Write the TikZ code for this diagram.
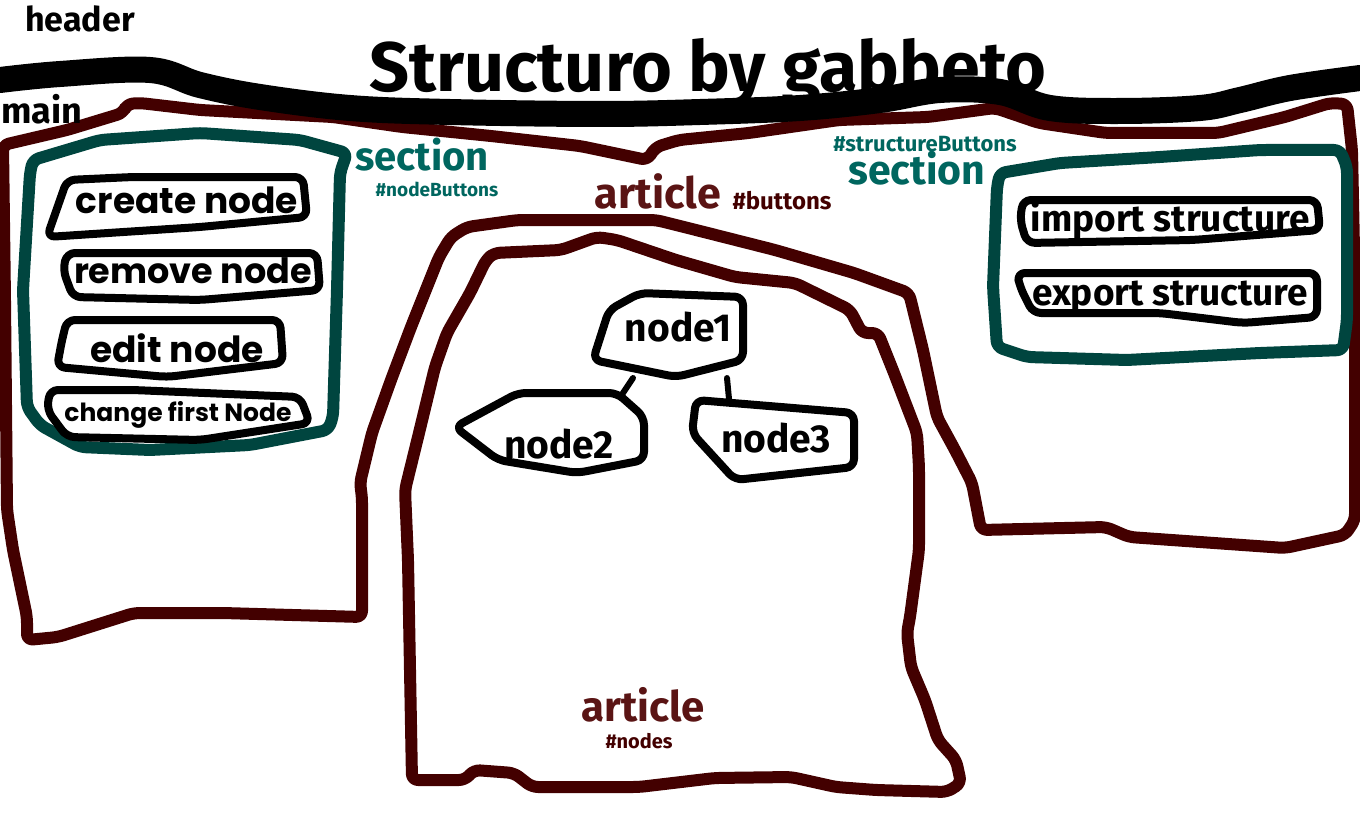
\documentclass[tikz,border=0pt]{standalone}
\usepackage{fontspec}
\setmainfont{Fira Sans}
\newfontfamily\btnfont{Poppins}
\usetikzlibrary{calc}

\definecolor{mainred}{HTML}{430000}
\definecolor{textred}{HTML}{5A1414}
\definecolor{sectteal}{HTML}{00453F}
\definecolor{textteal}{HTML}{00665F}

\tikzset{
  outline/.style={line width=12pt, line join=round, line cap=round, rounded corners=6pt},
  mainline/.style={outline, draw=mainred},
  sectline/.style={outline, draw=sectteal},
  btnline/.style={draw=black, line width=8pt, line join=round, rounded corners=8pt},
  linkline/.style={draw=black, line width=6pt, line cap=round},
  lbl/.style={inner sep=0pt, anchor=base},
  fsz/.style={font=\fontsize{#1}{#1}\selectfont\bfseries},
  btnsz/.style={font=\fontsize{#1}{#1}\selectfont\btnfont\bfseries}
}

\begin{document}
\begin{tikzpicture}[x=1pt, y=-1pt]
\useasboundingbox (0,0) rectangle (1360,840);

% main
\draw[mainline] (7,510) -- (5,300) -- (3,145) -- (67,130) -- (123,113) -- (127,104)
  -- (140,103) -- (200,110) -- (333,117) -- (402,127) -- (491,136) -- (580,146)
  -- (647,160) -- (656,147) -- (679,140) -- (749,133) -- (839,120) -- (928,117)
  -- (995,108) -- (1039,123) -- (1106,133) -- (1218,133) -- (1285,117) -- (1330,103)
  -- (1347,104) -- (1352,150) -- (1355,300) -- (1355,520) -- (1345,535) -- (1285,548)
  -- (1129,537) -- (1106,527) -- (981,530) -- (972,483) -- (955,450) -- (937,417)
  -- (923,350) -- (909,293) -- (854,273) -- (775,250) -- (696,230) -- (656,220)
  -- (518,220) -- (467,227) -- (451,237) -- (439,257) -- (427,287) -- (411,327)
  -- (391,380) -- (372,433) -- (360,483) -- (362,497) -- (362,617) -- (223,613)
  -- (134,613) -- (58,637) -- (27,640) -- (27,617) -- (13,550) -- cycle;

% header
\draw[line width=26pt, line cap=round] plot[smooth, tension=0.6] coordinates {
  (0,80) (60,74) (150,70) (200,85) (260,97) (350,108) (450,112) (600,114)
  (700,112) (800,108) (880,100) (940,90) (1000,92) (1050,108) (1120,111)
  (1200,108) (1240,100) (1290,88) (1360,78)};

% article #nodes
\draw[mainline] (494,253) -- (561,250) -- (597,237) -- (617,240) -- (676,260)
  -- (735,277) -- (795,283) -- (850,310) -- (862,333) -- (878,333) -- (894,373)
  -- (917,433) -- (919,467) -- (919,550) -- (910,617) -- (907,633) -- (911,667)
  -- (925,700) -- (938,740) -- (956,760) -- (961,783) -- (947,792) -- (876,790)
  -- (836,787) -- (791,777) -- (715,778) -- (639,787) -- (532,787) -- (514,773)
  -- (474,770) -- (465,780) -- (412,780) -- (410,670) -- (408,560) -- (405,490)
  -- (419,433) -- (435,367) -- (447,333) -- (470,293) -- (486,260) -- cycle;

% sections
\draw[sectline] (33,160) -- (100,140) -- (200,133) -- (300,140) -- (347,153)
  -- (340,173) -- (337,290) -- (333,417) -- (328,430) -- (250,445) -- (150,450)
  -- (80,447) -- (40,425) -- (27,407) -- (23,290) -- (30,173) -- cycle;
\draw[sectline] (1000,173) -- (1060,163) -- (1160,157) -- (1260,150) -- (1340,150)
  -- (1347,167) -- (1347,320) -- (1343,350) -- (1260,353) -- (1127,360)
  -- (1027,357) -- (997,347) -- (993,287) -- (997,187) -- cycle;

% buttons
\draw[btnline] (67,180) -- (133,177) -- (303,177) -- (307,217) -- (200,227)
  -- (47,237) -- (60,200) -- cycle;
\draw[btnline] (67,253) -- (317,253) -- (320,290) -- (200,300) -- (73,297)
  -- (63,270) -- cycle;
\draw[btnline] (67,320) -- (280,320) -- (283,363) -- (167,377) -- (57,367)
  -- (62,340) -- cycle;
\draw[btnline] (50,390) -- (133,390) -- (300,397) -- (310,423) -- (200,440)
  -- (67,437) -- (47,410) -- cycle;
\draw[btnline] (1023,200) -- (1317,200) -- (1320,230) -- (1193,240) -- (1027,243)
  -- (1020,220) -- cycle;
\draw[btnline] (1017,273) -- (1093,273) -- (1317,273) -- (1317,317) -- (1243,323)
  -- (1160,313) -- (1033,313) -- (1020,287) -- cycle;

% tree nodes
\draw[btnline] (593,360) -- (609,310) -- (640,293) -- (743,297) -- (743,360)
  -- (676,377) -- cycle;
\draw[btnline] (455,427) -- (518,393) -- (617,393) -- (644,417) -- (644,460)
  -- (577,473) -- (498,460) -- cycle;
\draw[btnline] (696,400) -- (854,413) -- (854,467) -- (735,480) -- (692,433) -- cycle;

\coordinate (n1l) at (633,378);
\coordinate (n1r) at (727,378);
\coordinate (n2t) at (621,396);
\coordinate (n3t) at (729,399);
\draw[linkline] (n1l) -- (n2t);
\draw[linkline] (n1r) -- (n3t);

% labels
\node[lbl, anchor=base west, fsz=34] (header) at (25,32) {header};
\node[lbl, anchor=base west, fsz=36] (main) at (1,124) {main};
\node[lbl, fsz=70] (title) at (708,92) {Structuro by gabbeto};

\node[lbl, fsz=40, text=textteal] (secl) at (422,170) {section};
\node[lbl, fsz=19, text=textteal] (secltag) at (437,196) {\#nodeButtons};
\node[lbl, fsz=22, text=textteal] (secrtag) at (925,151) {\#structureButtons};
\node[lbl, fsz=41, text=textteal] (secr) at (917,184) {section};

\node[lbl, fsz=43, text=textred] (artb) at (658,208) {article};
\node[lbl, fsz=24, text=mainred] (artbtag) at (782,209) {\#buttons};
\node[lbl, fsz=42, text=textred] (artn) at (643,721) {article};
\node[lbl, fsz=20, text=mainred] (artntag) at (639,748) {\#nodes};

\node[lbl, btnsz=36] (create) at (187,213) {create node};
\node[lbl, btnsz=35] (remove) at (193,283) {remove node};
\node[lbl, btnsz=36] (edit) at (177,362) {edit node};
\node[lbl, btnsz=25] (change) at (178,421) {change first Node};

\node[lbl, fsz=37] (import) at (1170,231) {import structure};
\node[lbl, fsz=37] (export) at (1170,305) {export structure};

\node[lbl, fsz=39] (node1) at (678,341) {node1};
\node[lbl, fsz=39] (node2) at (559,458) {node2};
\node[lbl, fsz=39] (node3) at (776,452) {node3};
\end{tikzpicture}
\end{document}
